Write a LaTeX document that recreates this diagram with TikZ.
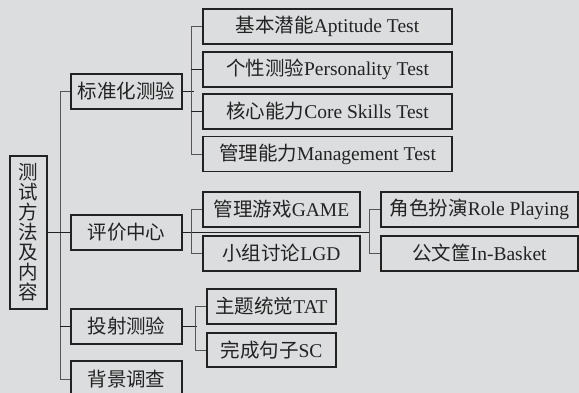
\documentclass[tikz,border=0pt]{standalone}
\usepackage{fontspec}
\setmainfont{Liberation Serif}
\newfontfamily\cjk{Noto Sans CJK SC}
\definecolor{bgc}{HTML}{DCDDDF}
\definecolor{ink}{HTML}{222222}
\definecolor{branch}{HTML}{555555}
\begin{document}
\begin{tikzpicture}[x=1pt,y=-1pt,
  box/.style={draw=ink,line width=1.1pt,fill=bgc,rectangle,inner sep=0pt,
    text=ink,font=\fontsize{19.5}{20}\selectfont,anchor=center},
  mainline/.style={draw=ink,line width=1.3pt},
  branchline/.style={draw=branch,line width=0.7pt}]
\useasboundingbox[fill=bgc] (0,0) rectangle (579,393);
% root
\node[box,minimum width=37pt,minimum height=153pt,align=center,
  font=\cjk\fontsize{19.5}{20}\selectfont] (root) at (28.5,232.5)
  {测\\试\\方\\法\\及\\内\\容};
% level 1
\node[box,minimum width=111pt,minimum height=35pt] (std) at (126.5,91.5) {\cjk 标准化测验};
\node[box,minimum width=111pt,minimum height=35pt] (eval) at (126.5,232.5) {\cjk 评价中心};
\node[box,minimum width=111pt,minimum height=35pt] (proj) at (126.5,326.5) {\cjk 投射测验};
\node[box,minimum width=111pt,minimum height=36pt] (bg) at (126.5,379) {\cjk 背景调查};
% standard tests
\node[box,minimum width=249pt,minimum height=35pt] (s1) at (327.5,26.5) {{\cjk 基本潜能}Aptitude Test};
\node[box,minimum width=249pt,minimum height=35pt] (s2) at (327.5,69.5) {{\cjk 个性测验}Personality Test};
\node[box,minimum width=249pt,minimum height=35pt] (s3) at (327.5,111.5) {{\cjk 核心能力}Core Skills Test};
\node[box,minimum width=249pt,minimum height=35pt] (s4) at (327.5,154) {{\cjk 管理能力}Management Test};
% assessment center
\node[box,minimum width=157pt,minimum height=35pt] (e1) at (281.5,209.5) {{\cjk 管理游戏}GAME};
\node[box,minimum width=157pt,minimum height=35pt] (e2) at (281.5,253.5) {{\cjk 小组讨论}LGD};
\node[box,minimum width=197pt,minimum height=35pt] (r1) at (479.5,209.5) {{\cjk 角色扮演}Role Playing};
\node[box,minimum width=197pt,minimum height=35pt] (r2) at (479.5,253.5) {{\cjk 公文筐}In-Basket};
% projective
\node[box,minimum width=129pt,minimum height=35pt] (p1) at (271.5,306.5) {{\cjk 主题统觉}TAT};
\node[box,minimum width=129pt,minimum height=34pt] (p2) at (271.5,350) {{\cjk 完成句子}SC};
% connectors level 1
\draw[branchline] (std.west) -- ++(-10,0) |- (bg.west);
\draw[mainline] (root.east) -- (eval.west);
\draw[mainline] (proj.west) -- ++(-10,0);
% standard group
\draw[mainline] (std.east) -- ++(11,0);
\draw[branchline] (s1.west) -- ++(-11,0) |- (s4.west);
\draw[mainline] (s2.west) -- ++(-11,0);
\draw[mainline] (s3.west) -- ++(-11,0);
% evaluation group
\coordinate (ej) at (370,232.5);
\draw[mainline] (eval.east) -- (ej);
\draw[branchline] (e1.west) -- ++(-11,0) |- (e2.west);
\draw[branchline] (r1.west) -- ++(-11,0) |- (r2.west);
% projective group
\draw[mainline] (proj.east) -- ++(14,0);
\draw[branchline] (p1.west) -- ++(-11,0) |- (p2.west);
\end{tikzpicture}
\end{document}
